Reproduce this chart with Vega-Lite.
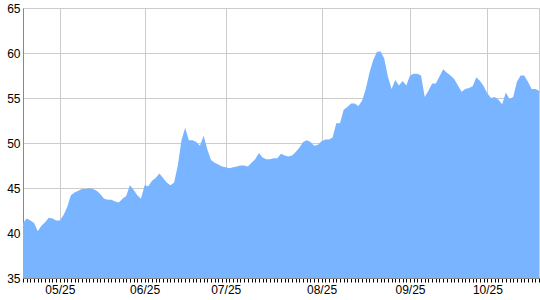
{
  "$schema": "https://vega.github.io/schema/vega-lite/v6.json",
  "width": 516,
  "height": 270,
  "autosize": {"type": "none"},
  "padding": {"left": 23, "top": 8, "right": 1, "bottom": 22},
  "config": {
    "view": {"stroke": "#cccccc", "strokeWidth": 1},
    "font": "Liberation Sans"
  },
  "data": {
    "values": [
      {"day": 0, "value": 41.1}, {"day": 1, "value": 41.6}, {"day": 2, "value": 41.4}, {"day": 3, "value": 41.1}, {"day": 4, "value": 40.2},
      {"day": 5, "value": 40.8}, {"day": 6, "value": 41.2}, {"day": 7, "value": 41.7}, {"day": 8, "value": 41.6}, {"day": 9, "value": 41.4},
      {"day": 10, "value": 41.4}, {"day": 11, "value": 42.0}, {"day": 12, "value": 42.9}, {"day": 13, "value": 44.2}, {"day": 14, "value": 44.5},
      {"day": 15, "value": 44.7}, {"day": 16, "value": 44.9}, {"day": 17, "value": 44.9}, {"day": 18, "value": 45.0}, {"day": 19, "value": 44.9},
      {"day": 20, "value": 44.7}, {"day": 21, "value": 44.3}, {"day": 22, "value": 43.8}, {"day": 23, "value": 43.7}, {"day": 24, "value": 43.7},
      {"day": 25, "value": 43.5}, {"day": 26, "value": 43.4}, {"day": 27, "value": 43.8}, {"day": 28, "value": 44.1}, {"day": 29, "value": 45.3},
      {"day": 30, "value": 44.8}, {"day": 31, "value": 44.2}, {"day": 32, "value": 43.8}, {"day": 33, "value": 45.3}, {"day": 34, "value": 45.2},
      {"day": 35, "value": 45.8}, {"day": 36, "value": 46.1}, {"day": 37, "value": 46.6}, {"day": 38, "value": 46.1}, {"day": 39, "value": 45.6},
      {"day": 40, "value": 45.3}, {"day": 41, "value": 45.6}, {"day": 42, "value": 47.5}, {"day": 43, "value": 50.3}, {"day": 44, "value": 51.7},
      {"day": 45, "value": 50.3}, {"day": 46, "value": 50.3}, {"day": 47, "value": 50.1}, {"day": 48, "value": 49.7}, {"day": 49, "value": 50.8},
      {"day": 50, "value": 49.3}, {"day": 51, "value": 48.1}, {"day": 52, "value": 47.8}, {"day": 53, "value": 47.6}, {"day": 54, "value": 47.4},
      {"day": 55, "value": 47.3}, {"day": 56, "value": 47.2}, {"day": 57, "value": 47.3}, {"day": 58, "value": 47.4}, {"day": 59, "value": 47.5},
      {"day": 60, "value": 47.5}, {"day": 61, "value": 47.4}, {"day": 62, "value": 47.8}, {"day": 63, "value": 48.2}, {"day": 64, "value": 48.9},
      {"day": 65, "value": 48.4}, {"day": 66, "value": 48.2}, {"day": 67, "value": 48.2}, {"day": 68, "value": 48.3}, {"day": 69, "value": 48.3},
      {"day": 70, "value": 48.8}, {"day": 71, "value": 48.6}, {"day": 72, "value": 48.5}, {"day": 73, "value": 48.6}, {"day": 74, "value": 49.0},
      {"day": 75, "value": 49.5}, {"day": 76, "value": 50.1}, {"day": 77, "value": 50.3}, {"day": 78, "value": 50.1}, {"day": 79, "value": 49.7},
      {"day": 80, "value": 49.8}, {"day": 81, "value": 50.2}, {"day": 82, "value": 50.4}, {"day": 83, "value": 50.4}, {"day": 84, "value": 50.6},
      {"day": 85, "value": 52.2}, {"day": 86, "value": 52.2}, {"day": 87, "value": 53.7}, {"day": 88, "value": 54.0}, {"day": 89, "value": 54.4},
      {"day": 90, "value": 54.4}, {"day": 91, "value": 54.1}, {"day": 92, "value": 54.7}, {"day": 93, "value": 56.0}, {"day": 94, "value": 57.8},
      {"day": 95, "value": 59.2}, {"day": 96, "value": 60.1}, {"day": 97, "value": 60.2}, {"day": 98, "value": 59.4}, {"day": 99, "value": 57.4},
      {"day": 100, "value": 56.0}, {"day": 101, "value": 57.0}, {"day": 102, "value": 56.4}, {"day": 103, "value": 56.9}, {"day": 104, "value": 56.4},
      {"day": 105, "value": 57.5}, {"day": 106, "value": 57.7}, {"day": 107, "value": 57.7}, {"day": 108, "value": 57.5}, {"day": 109, "value": 55.1},
      {"day": 110, "value": 55.8}, {"day": 111, "value": 56.6}, {"day": 112, "value": 56.6}, {"day": 113, "value": 57.4}, {"day": 114, "value": 58.2},
      {"day": 115, "value": 57.8}, {"day": 116, "value": 57.5}, {"day": 117, "value": 57.1}, {"day": 118, "value": 56.4}, {"day": 119, "value": 55.7},
      {"day": 120, "value": 56.0}, {"day": 121, "value": 56.1}, {"day": 122, "value": 56.3}, {"day": 123, "value": 57.3}, {"day": 124, "value": 56.9},
      {"day": 125, "value": 56.3}, {"day": 126, "value": 55.5}, {"day": 127, "value": 55.0}, {"day": 128, "value": 55.1}, {"day": 129, "value": 54.8},
      {"day": 130, "value": 54.3}, {"day": 131, "value": 55.6}, {"day": 132, "value": 54.9}, {"day": 133, "value": 55.1}, {"day": 134, "value": 56.8},
      {"day": 135, "value": 57.5}, {"day": 136, "value": 57.5}, {"day": 137, "value": 56.8}, {"day": 138, "value": 56.0}, {"day": 139, "value": 56.0},
      {"day": 140, "value": 55.8}
    ]
  },
  "mark": {"type": "area", "color": "#78b4ff", "opacity": 1, "interpolate": "linear", "clip": true},
  "encoding": {
    "x": {
      "field": "day",
      "type": "ordinal",
      "sort": null,
      "scale": {"type": "point", "padding": 0},
      "axis": {
        "title": null,
        "labelAngle": 0,
        "labelOverlap": false,
        "labelExpr": "datum.value == 10 ? '05/25' : datum.value == 33 ? '06/25' : datum.value == 55 ? '07/25' : datum.value == 81 ? '08/25' : datum.value == 105 ? '09/25' : datum.value == 126 ? '10/25' : ''",
        "labelFontSize": 12,
        "labelColor": "#000000",
        "labelPadding": 2,
        "ticks": true,
        "tickSize": 4,
        "tickColor": "#000000",
        "tickWidth": 1,
        "domainColor": "#888888",
        "grid": true,
        "gridColor": "#cccccc",
        "gridOpacity": {"condition": {"test": "indexof([10,33,55,81,105,126], datum.value) >= 0", "value": 1}, "value": 0}
      }
    },
    "y": {
      "field": "value",
      "type": "quantitative",
      "scale": {"domain": [35, 65], "nice": false, "zero": false},
      "axis": {
        "title": null,
        "values": [35, 40, 45, 50, 55, 60, 65],
        "labelFontSize": 12,
        "labelColor": "#000000",
        "labelPadding": 3,
        "ticks": false,
        "domainColor": "#888888",
        "grid": true,
        "gridColor": "#cccccc"
      }
    }
  }
}
